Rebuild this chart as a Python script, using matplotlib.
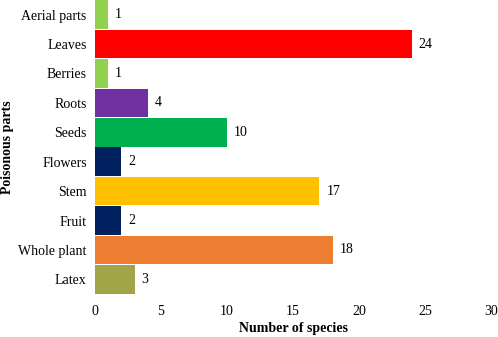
import matplotlib
matplotlib.use('Agg')
import matplotlib.pyplot as plt

# Poisonous plant parts and the number of species for each (top to bottom)
parts = ['Aerial parts', 'Leaves', 'Berries', 'Roots', 'Seeds',
         'Flowers', 'Stem', 'Fruit', 'Whole plant', 'Latex']
counts = [1, 24, 1, 4, 10, 2, 17, 2, 18, 3]
colors = ['#92D050', '#FF0000', '#92D050', '#7030A0', '#00B050',
          '#002060', '#FFC000', '#002060', '#ED7D31', '#A2A448']

plt.rcParams['font.family'] = ['Liberation Serif', 'DejaVu Serif']
plt.rcParams['font.size'] = 10

fig = plt.figure(figsize=(4.98, 3.37), dpi=100)
ax = fig.add_axes([95 / 498, 1 - 294 / 337, 396 / 498, 294 / 337])

y = range(len(parts))
bars = ax.barh(y, counts, height=0.97, color=colors)
ax.set_ylim(len(parts) - 0.5, -0.5)
ax.set_xlim(0, 30)
ax.set_xticks([0, 5, 10, 15, 20, 25, 30])
ax.set_yticks(list(y))
ax.set_yticklabels(parts)

for b, v in zip(bars, counts):
    ax.annotate(str(v), (b.get_width(), b.get_y() + b.get_height() / 2),
                xytext=(5, 0), textcoords='offset points',
                va='center', ha='left')

for s in ax.spines.values():
    s.set_visible(False)
ax.tick_params(length=0)
ax.tick_params(axis='x', pad=8)
ax.tick_params(axis='y', pad=6)

ax.set_xlabel('Number of species', fontweight='bold', labelpad=3)
fig.text(8 / 498, 1 - 147 / 337, 'Poisonous parts', rotation=90,
         fontweight='bold', va='center', ha='center')

plt.savefig('out.png', dpi=100)
